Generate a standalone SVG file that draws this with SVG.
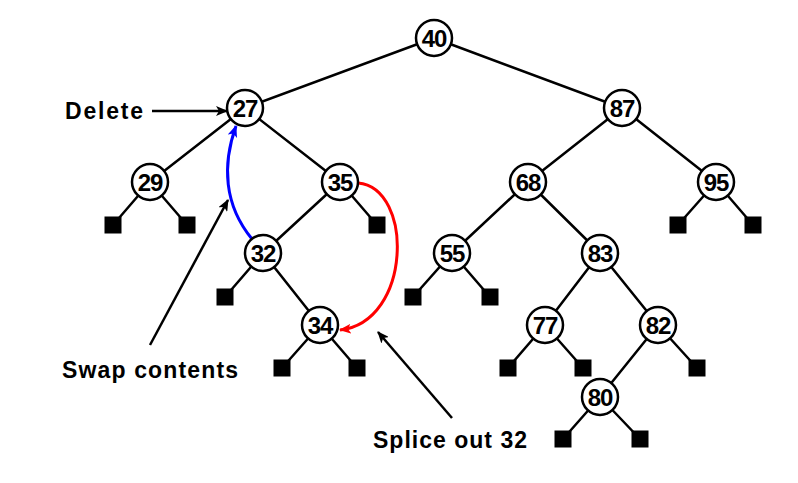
<svg xmlns="http://www.w3.org/2000/svg" width="798" height="483" viewBox="0 0 798 483">
<style>
.e{stroke:#000;stroke-width:2.5;fill:none}
.n circle{fill:#fff;stroke:#000;stroke-width:2.5}
.n text{font-family:"Liberation Sans","DejaVu Sans",sans-serif;font-weight:bold;font-size:24px;text-anchor:middle;letter-spacing:-1px}
.l{fill:#000}
.lab{font-family:"Liberation Sans","DejaVu Sans",sans-serif;font-weight:bold;font-size:23px}
</style>
<defs>
<marker id="ak" markerWidth="12" markerHeight="10" refX="11" refY="5" orient="auto" markerUnits="userSpaceOnUse"><path d="M0,0 L12,5 L0,10 L3,5 Z" fill="#000"/></marker>
<marker id="ab" markerWidth="12" markerHeight="10" refX="11" refY="5" orient="auto" markerUnits="userSpaceOnUse"><path d="M0,0 L12,5 L0,10 L3,5 Z" fill="#00f"/></marker>
<marker id="ar" markerWidth="12" markerHeight="10" refX="11" refY="5" orient="auto" markerUnits="userSpaceOnUse"><path d="M0,0 L12,5 L0,10 L3,5 Z" fill="#f00"/></marker>
</defs>
<g id="connectors">
<path class="e" d="M434,38 L245,108 M434,38 L622,108 M245,108 L150,182 M245,108 L340,182 M622,108 L528,182 M622,108 L716,182 M150,182 L113,225 M150,182 L187,225 M340,182 L263,253 M340,182 L377,225 M263,253 L225,297 M263,253 L320,325 M320,325 L282,368 M320,325 L357,368 M528,182 L452,253 M528,182 L600,253 M452,253 L413,297 M452,253 L490,297 M600,253 L545,325 M600,253 L658,325 M545,325 L508,368 M545,325 L583,368 M658,325 L600,397 M658,325 L697,368 M600,397 L563,439 M600,397 L640,439 M716,182 L678,225 M716,182 L753,225"/>
<path d="M152,111 L227,111" stroke="#000" stroke-width="2.5" fill="none" marker-end="url(#ak)"/>
<path d="M150,345 L228,200" stroke="#000" stroke-width="2.5" fill="none" marker-end="url(#ak)"/>
<path d="M452,418 L378,332" stroke="#000" stroke-width="2.5" fill="none" marker-end="url(#ak)"/>
<path d="M252,239 C224,205 222,165 236,126" stroke="#00f" stroke-width="3" fill="none" marker-end="url(#ab)"/>
<path d="M358,183 C414,188 412,322 340,330" stroke="#f00" stroke-width="3" fill="none" marker-end="url(#ar)"/>
</g>
<g id="leaves" class="l">
<rect x="104.5" y="216.5" width="17" height="17"/>
<rect x="178.5" y="216.5" width="17" height="17"/>
<rect x="368.5" y="216.5" width="17" height="17"/>
<rect x="216.5" y="288.5" width="17" height="17"/>
<rect x="273.5" y="359.5" width="17" height="17"/>
<rect x="348.5" y="359.5" width="17" height="17"/>
<rect x="404.5" y="288.5" width="17" height="17"/>
<rect x="481.5" y="288.5" width="17" height="17"/>
<rect x="669.5" y="216.5" width="17" height="17"/>
<rect x="744.5" y="216.5" width="17" height="17"/>
<rect x="499.5" y="359.5" width="17" height="17"/>
<rect x="574.5" y="359.5" width="17" height="17"/>
<rect x="688.5" y="359.5" width="17" height="17"/>
<rect x="554.5" y="430.5" width="17" height="17"/>
<rect x="631.5" y="430.5" width="17" height="17"/>
</g>
<g id="n40" class="n"><circle cx="434" cy="38" r="18"/><text x="434" y="47">40</text></g>
<g id="n27" class="n"><circle cx="245" cy="108" r="18"/><text x="245" y="117">27</text></g>
<g id="n87" class="n"><circle cx="622" cy="108" r="18"/><text x="622" y="117">87</text></g>
<g id="n29" class="n"><circle cx="150" cy="182" r="18"/><text x="150" y="191">29</text></g>
<g id="n35" class="n"><circle cx="340" cy="182" r="18"/><text x="340" y="191">35</text></g>
<g id="n68" class="n"><circle cx="528" cy="182" r="18"/><text x="528" y="191">68</text></g>
<g id="n95" class="n"><circle cx="716" cy="182" r="18"/><text x="716" y="191">95</text></g>
<g id="n32" class="n"><circle cx="263" cy="253" r="18"/><text x="263" y="262">32</text></g>
<g id="n55" class="n"><circle cx="452" cy="253" r="18"/><text x="452" y="262">55</text></g>
<g id="n83" class="n"><circle cx="600" cy="253" r="18"/><text x="600" y="262">83</text></g>
<g id="n34" class="n"><circle cx="320" cy="325" r="18"/><text x="320" y="334">34</text></g>
<g id="n77" class="n"><circle cx="545" cy="325" r="18"/><text x="545" y="334">77</text></g>
<g id="n82" class="n"><circle cx="658" cy="325" r="18"/><text x="658" y="334">82</text></g>
<g id="n80" class="n"><circle cx="600" cy="397" r="18"/><text x="600" y="406">80</text></g>
<g id="labels">
<text class="lab" x="65" y="119" textLength="78">Delete</text>
<text class="lab" x="62" y="378" textLength="176">Swap contents</text>
<text class="lab" x="373" y="448" textLength="154">Splice out 32</text>
</g>
</svg>
